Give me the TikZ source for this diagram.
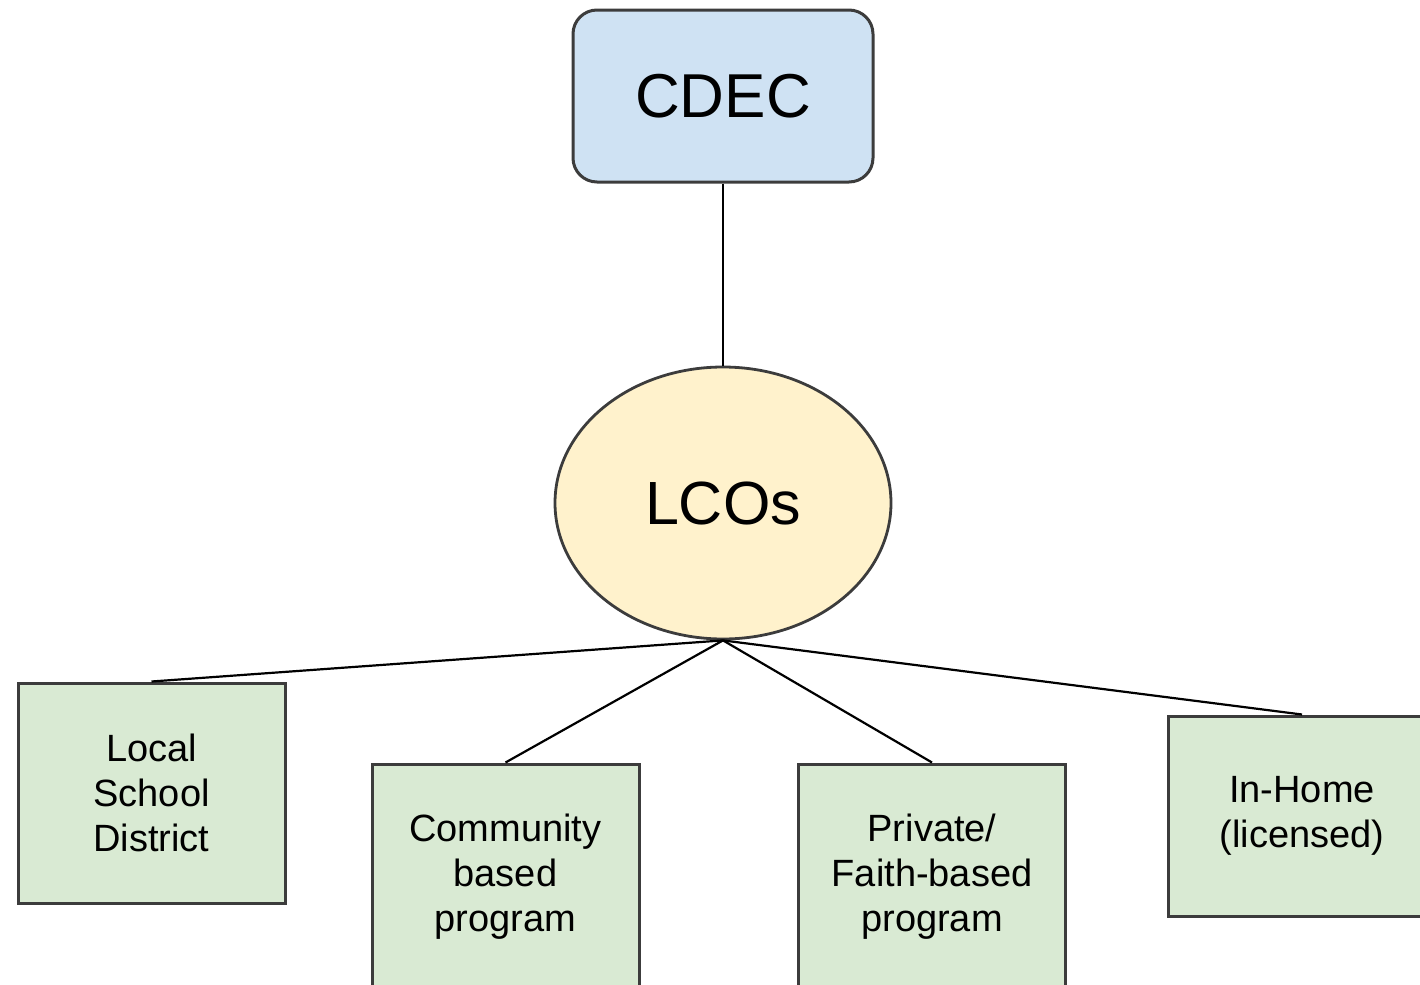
\documentclass[tikz,border=0pt]{standalone}
\usepackage{fontspec}
\setmainfont{Liberation Sans}
\usetikzlibrary{shapes.geometric}

\definecolor{cdecBlue}{HTML}{CFE2F3}
\definecolor{lcoYellow}{HTML}{FFF2CC}
\definecolor{provGreen}{HTML}{D9EAD3}
\definecolor{edgeGray}{HTML}{3C3C3C}

\newcommand{\orgBoxWidth}{133.5pt}
\newcommand{\orgBoxHeight}{110pt}
\tikzset{
  org base/.style={inner sep=0pt, align=center},
  org line/.style={line width=1.1pt, black},
  org top/.style={draw=edgeGray, line width=1.5pt, rectangle, rounded corners=12pt,
    minimum width=150pt, minimum height=86pt, fill=cdecBlue,
    font=\fontsize{31}{36}\selectfont},
  org hub/.style={draw=edgeGray, line width=1.4pt, ellipse,
    minimum width=168pt, minimum height=136pt, fill=lcoYellow,
    font=\fontsize{30.5}{36}\selectfont},
  org provider/.style={draw=edgeGray, line width=1.5pt, rectangle,
    minimum width=\orgBoxWidth, minimum height=\orgBoxHeight, fill=provGreen,
    font=\fontsize{19}{22.5}\selectfont},
}

\begin{document}
\begin{tikzpicture}[
    org base,
    x=0.5pt, y=-0.5pt,
    top/.style={org top},
    hub/.style={org hub},
    provider/.style={org provider},
    link/.style={org line}
]
\useasboundingbox (0,0) rectangle (1420,985);
\clip (0,0) rectangle (1420,985);

\node (cdec) [top] at (723,96) {CDEC};
\node (lcos) [hub] at (723,503) {LCOs};

\node (school)    [provider] at (151.5,793) {Local\\School\\District};
\node (community) [provider, minimum height=113pt] at (505.5,877) {Community\\based\\program};
\node (faith)     [provider, minimum height=113pt] at (932,877)   {Private/\\Faith-based\\program};
\node (inhome)    [provider, minimum height=100pt] at (1302,816) {In-Home\\(licensed)};

\draw [link] (cdec.south) -- (lcos.north);
\draw [link] (lcos.south) -- (school.north);
\draw [link] (lcos.south) -- (community.north);
\draw [link] (lcos.south) -- (faith.north);
\draw [link] (lcos.south) -- (inhome.north);
\end{tikzpicture}
\end{document}
